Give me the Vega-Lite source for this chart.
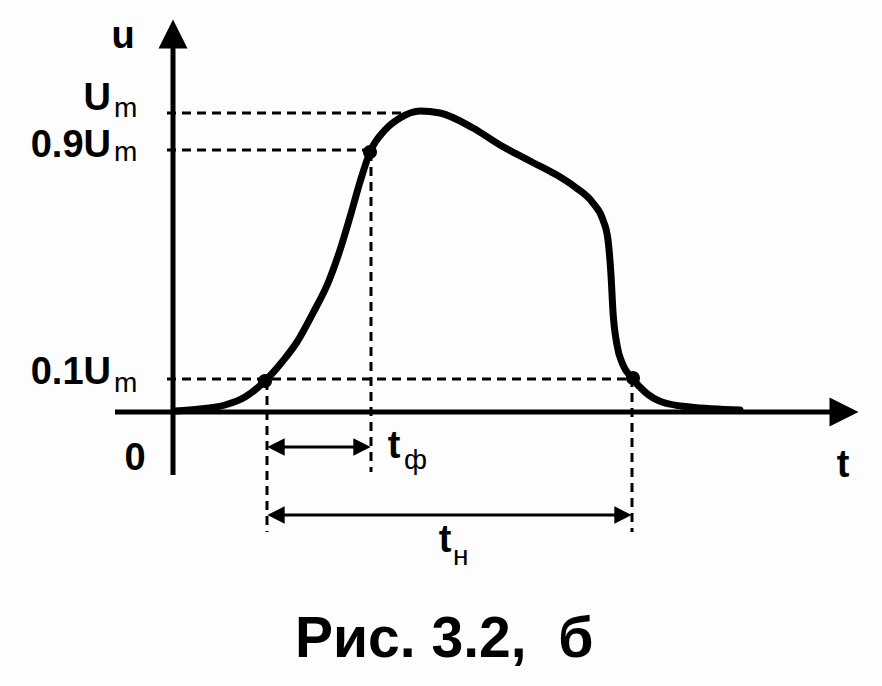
{
  "$schema": "https://vega.github.io/schema/vega-lite/v6.json",
  "width": 882,
  "height": 686,
  "autosize": {"type": "fit", "contains": "padding"},
  "padding": 0,
  "background": "#fdfdfd",
  "config": {"view": {"stroke": null}},
  "datasets": {
    "curve": [
      {"x": 175, "y": 411}, {"x": 200, "y": 409}, {"x": 225, "y": 405}, {"x": 245, "y": 397},
      {"x": 265, "y": 381}, {"x": 282, "y": 362}, {"x": 297, "y": 342}, {"x": 313, "y": 313},
      {"x": 328, "y": 283}, {"x": 340, "y": 250}, {"x": 350, "y": 217}, {"x": 360, "y": 182},
      {"x": 370, "y": 152}, {"x": 385, "y": 130}, {"x": 400, "y": 118}, {"x": 420, "y": 111},
      {"x": 440, "y": 113}, {"x": 473, "y": 128}, {"x": 500, "y": 145}, {"x": 530, "y": 161},
      {"x": 555, "y": 174}, {"x": 575, "y": 187}, {"x": 593, "y": 203}, {"x": 603, "y": 220},
      {"x": 608, "y": 240}, {"x": 611, "y": 275}, {"x": 613, "y": 312}, {"x": 617, "y": 345},
      {"x": 623, "y": 365}, {"x": 632, "y": 378}, {"x": 645, "y": 392}, {"x": 662, "y": 402},
      {"x": 690, "y": 407}, {"x": 740, "y": 410}
    ],
    "axes": [
      {"x": 173, "y": 475, "x2": 173, "y2": 45},
      {"x": 115, "y": 412, "x2": 835, "y2": 412}
    ],
    "dashes": [
      {"x": 167, "y": 113, "x2": 410, "y2": 113},
      {"x": 167, "y": 150, "x2": 370, "y2": 150},
      {"x": 167, "y": 379, "x2": 632, "y2": 379},
      {"x": 267, "y": 381, "x2": 267, "y2": 532},
      {"x": 371, "y": 152, "x2": 371, "y2": 472},
      {"x": 632, "y": 378, "x2": 632, "y2": 532}
    ],
    "dims": [
      {"x": 272, "y": 447, "x2": 366, "y2": 447},
      {"x": 272, "y": 515, "x2": 627, "y2": 515}
    ],
    "bigArrows": [
      {"x": 173, "y": 34, "dir": "up"},
      {"x": 844, "y": 412, "dir": "right"}
    ],
    "smallArrows": [
      {"x": 276, "y": 447, "dir": "left"},
      {"x": 362, "y": 447, "dir": "right"},
      {"x": 276, "y": 515, "dir": "left"},
      {"x": 623, "y": 515, "dir": "right"}
    ],
    "marks": [
      {"x": 265, "y": 381}, {"x": 370, "y": 152}, {"x": 633, "y": 378}
    ],
    "ylabels": [
      {"x": 111, "y": 110, "text": "U"},
      {"x": 111, "y": 157, "text": "0.9U"},
      {"x": 111, "y": 384, "text": "0.1U"}
    ],
    "clabels": [
      {"x": 123, "y": 48, "text": "u"},
      {"x": 135, "y": 470, "text": "0"},
      {"x": 843, "y": 477, "text": "t"},
      {"x": 394, "y": 458, "text": "t"},
      {"x": 445, "y": 552, "text": "t"}
    ],
    "subs": [
      {"x": 114, "y": 117, "text": "m"},
      {"x": 114, "y": 161, "text": "m"},
      {"x": 114, "y": 392, "text": "m"},
      {"x": 404, "y": 469, "text": "ф"},
      {"x": 453, "y": 565, "text": "н"}
    ],
    "caption": [
      {"x": 295, "y": 657, "text": "Рис. 3.2,\u00a0 б"}
    ]
  },
  "encoding": {
    "x": {"field": "x", "type": "quantitative", "scale": {"domain": [0, 882], "nice": false, "zero": false}, "axis": null},
    "y": {"field": "y", "type": "quantitative", "scale": {"domain": [0, 686], "nice": false, "zero": false, "reverse": true}, "axis": null}
  },
  "layer": [
    {
      "data": {"name": "dashes"},
      "mark": {"type": "rule", "color": "#000", "strokeWidth": 3, "strokeDash": [9, 6]},
      "encoding": {"x2": {"field": "x2"}, "y2": {"field": "y2"}}
    },
    {
      "data": {"name": "dims"},
      "mark": {"type": "rule", "color": "#000", "strokeWidth": 3},
      "encoding": {"x2": {"field": "x2"}, "y2": {"field": "y2"}}
    },
    {
      "data": {"name": "axes"},
      "mark": {"type": "rule", "color": "#000", "strokeWidth": 5},
      "encoding": {"x2": {"field": "x2"}, "y2": {"field": "y2"}}
    },
    {
      "data": {"name": "curve"},
      "mark": {"type": "line", "color": "#000", "strokeWidth": 7, "interpolate": "monotone", "strokeCap": "round"}
    },
    {
      "data": {"name": "bigArrows"},
      "mark": {"type": "point", "filled": true, "color": "#000", "opacity": 1, "size": 841, "strokeWidth": 0},
      "encoding": {
        "shape": {"field": "dir", "type": "nominal", "scale": {"domain": ["up", "right", "left"], "range": ["M-1,1L0,-1L1,1Z", "M-1,-1L1,0L-1,1Z", "M1,-1L-1,0L1,1Z"]}, "legend": null}
      }
    },
    {
      "data": {"name": "smallArrows"},
      "mark": {"type": "point", "filled": true, "color": "#000", "opacity": 1, "size": 300, "strokeWidth": 0},
      "encoding": {
        "shape": {"field": "dir", "type": "nominal", "scale": {"domain": ["up", "right", "left"], "range": ["M-1,1L0,-1L1,1Z", "M-1,-0.9L1,0L-1,0.9Z", "M1,-0.9L-1,0L1,0.9Z"]}, "legend": null}
      }
    },
    {
      "data": {"name": "marks"},
      "mark": {"type": "circle", "color": "#000", "opacity": 1, "size": 200}
    },
    {
      "data": {"name": "ylabels"},
      "mark": {"type": "text", "font": "Liberation Sans", "fontWeight": "bold", "fontSize": 38, "align": "right", "baseline": "alphabetic", "color": "#000"},
      "encoding": {"text": {"field": "text"}}
    },
    {
      "data": {"name": "clabels"},
      "mark": {"type": "text", "font": "Liberation Sans", "fontWeight": "bold", "fontSize": 38, "align": "center", "baseline": "alphabetic", "color": "#000"},
      "encoding": {"text": {"field": "text"}}
    },
    {
      "data": {"name": "subs"},
      "mark": {"type": "text", "font": "Liberation Sans", "fontWeight": "normal", "fontSize": 28, "align": "left", "baseline": "alphabetic", "color": "#000"},
      "encoding": {"text": {"field": "text"}}
    },
    {
      "data": {"name": "caption"},
      "mark": {"type": "text", "font": "Liberation Sans", "fontWeight": "bold", "fontSize": 57, "align": "left", "baseline": "alphabetic", "color": "#000"},
      "encoding": {"text": {"field": "text"}}
    }
  ]
}
